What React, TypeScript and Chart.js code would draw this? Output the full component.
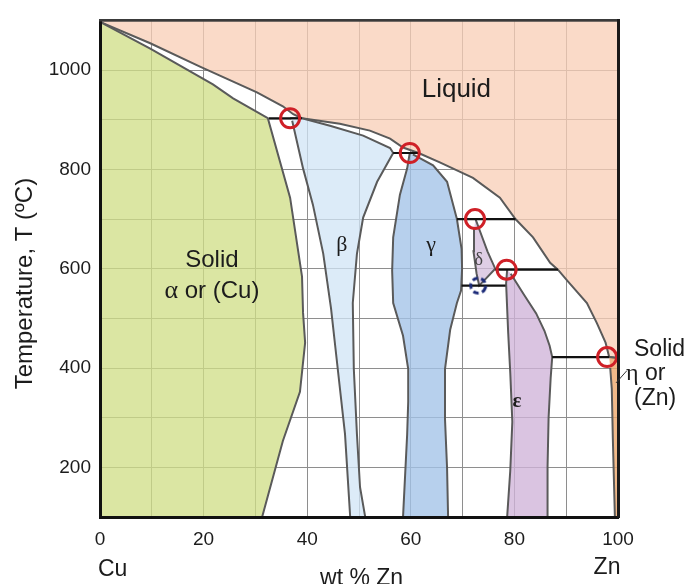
import React, { useEffect, useRef } from 'react';
import { Chart, registerables } from 'chart.js';

Chart.register(...registerables);

type Pt = [number, number];

// ---------- axis ranges / ticks ----------
const xRange: Pt = [0, 100];
const yRange: Pt = [100, 1100];
const xTickLabels = [0, 20, 40, 60, 80, 100];
const yTickLabels = [200, 400, 600, 800, 1000];

// ---------- phase boundaries (wt % Zn, °C) ----------
const liquidus: Pt[] = [
  [0, 1097], [9.7, 1054], [19.3, 1007], [30.3, 955], [35.3, 927], [37.3, 911], [39.0, 903],
  [46.3, 892], [52.1, 878], [56.0, 862], [58.5, 844], [61.5, 833], [65.6, 814], [72.0, 783],
  [77.2, 743], [80.2, 700], [83.6, 663], [86.9, 612], [88.4, 598], [90.2, 576], [94.0, 531],
  [95.9, 491], [97.6, 451], [98.3, 422], [100, 420],
];
const alphaSolidus: Pt[] = [[0, 1097], [9.7, 1043], [21.8, 971], [25.7, 943], [32.4, 903]];
const alphaSolvus: Pt[] = [
  [32.4, 903], [36.7, 743], [39.0, 584], [39.2, 511], [39.6, 451], [38.6, 352], [35.3, 253], [31.3, 100],
];
const betaField: Pt[] = [
  [36.7, 903], [39.0, 903], [44.4, 888], [50.8, 868], [56.0, 843], [56.6, 833], [53.5, 775],
  [50.8, 703], [49.6, 630], [48.8, 531], [49.0, 398], [49.6, 267], [50.2, 160], [51.2, 100],
  [48.3, 100], [47.3, 267], [45.9, 398], [44.6, 520], [43.1, 630], [41.1, 729], [39.2, 802], [37.1, 898],
];
const gammaField: Pt[] = [
  [59.8, 833], [59.3, 802], [57.9, 749], [56.6, 663], [56.4, 596], [56.6, 531], [58.5, 465],
  [59.5, 398], [59.5, 332], [59.3, 267], [58.5, 100], [67.2, 100], [67.0, 199], [66.6, 298],
  [66.6, 398], [67.6, 477], [68.9, 531], [69.7, 556], [69.9, 600], [69.8, 640], [68.9, 700],
  [67.0, 775], [64.3, 808], [60.4, 830],
];
const deltaField: Pt[] = [
  [72.5, 700], [73.2, 680], [74.8, 635], [76.3, 600], [74.5, 580], [73.2, 566], [72.7, 590],
  [72.1, 635], [72.2, 680],
];
const epsilonField: Pt[] = [
  [78.6, 598], [78.4, 570], [78.8, 471], [79.2, 391], [79.6, 292], [79.2, 193], [78.6, 100],
  [86.3, 100], [86.4, 200], [86.6, 300], [87.0, 380], [87.3, 422], [86.8, 445], [85.8, 475],
  [84.2, 510], [81.7, 550], [79.3, 590],
];
const etaField: Pt[] = [
  [98.3, 422], [100, 420], [100, 100], [99.4, 100], [99.0, 259], [98.8, 358], [98.5, 400],
];

// invariant (horizontal) lines: [x start, x end, temperature]
const invariantLines: [number, number, number][] = [
  [32.6, 39.0, 903], [56.6, 61.5, 833], [68.9, 80.2, 700], [76.3, 88.4, 598], [69.8, 78.3, 566], [87.3, 98.3, 422],
];
// peritectic / eutectic points (red circles) and eutectoid point (dashed)
const invariantPoints: Pt[] = [[36.7, 903], [59.8, 833], [72.4, 700], [78.5, 598], [97.9, 422]];
const eutectoidPoints: Pt[] = [[73.0, 566]];

// ---------- styles ----------
const SANS = "'Liberation Sans', Arial, Helvetica, sans-serif";
const SERIF = "'Liberation Serif', 'DejaVu Serif', 'Times New Roman', serif";
const fills = {
  liquid: 'rgba(248,206,182,0.75)',
  alpha: 'rgba(208,222,134,0.76)',
  beta: 'rgba(208,228,246,0.75)',
  gamma: 'rgba(163,195,232,0.78)',
  delta: 'rgba(212,190,220,0.75)',
  epsilon: 'rgba(208,179,216,0.78)',
  eta: 'rgba(238,168,108,0.8)',
};
const boundaryColor = '#5a5a5a';
const textColor = '#1c1c1c';

const xy = (pts: Pt[]) => pts.map(([x, y]) => ({ x, y }));

function polygon(pts: Pt[], color: string, order: number) {
  return {
    data: xy(pts),
    showLine: true,
    fill: 'shape',
    backgroundColor: color,
    borderColor: boundaryColor,
    borderWidth: 2,
    pointRadius: 0,
    tension: 0,
    order,
  };
}

type Run = [string, string];
const phaseLabels: { runs: Run[]; x: number; y: number; color?: string }[] = [
  { runs: [['Liquid', `26px ${SANS}`]], x: 68.8, y: 960 },
  { runs: [['Solid', `24px ${SANS}`]], x: 21.6, y: 616 },
  { runs: [['α', `26px ${SERIF}`], [' or (Cu)', `24px ${SANS}`]], x: 21.6, y: 555 },
  { runs: [['β', `22px ${SERIF}`]], x: 46.7, y: 648 },
  { runs: [['γ', `22px ${SERIF}`]], x: 63.9, y: 648 },
  { runs: [['δ', `18px ${SERIF}`]], x: 73.1, y: 616, color: '#444' },
  { runs: [['ε', `bold 21px ${SERIF}`]], x: 80.5, y: 332 },
];

function drawRuns(ctx: CanvasRenderingContext2D, runs: Run[], cx: number, cy: number, align: 'center' | 'left') {
  let total = 0;
  const widths = runs.map(([t, f]) => {
    ctx.font = f;
    const w = ctx.measureText(t).width;
    total += w;
    return w;
  });
  let x = align === 'center' ? cx - total / 2 : cx;
  ctx.textAlign = 'left';
  runs.forEach(([t, f], i) => {
    ctx.font = f;
    ctx.fillText(t, x, cy);
    x += widths[i];
  });
}

const annotatePlugin = {
  id: 'annotate',
  afterDraw(chart: any) {
    const { ctx, scales, chartArea } = chart;
    const xs = scales.x;
    const ys = scales.y;
    ctx.save();
    ctx.textBaseline = 'middle';
    for (const l of phaseLabels) {
      ctx.fillStyle = l.color || textColor;
      drawRuns(ctx, l.runs, xs.getPixelForValue(l.x), ys.getPixelForValue(l.y), 'center');
    }
    ctx.fillStyle = textColor;
    const xr = xs.getPixelForValue(100);
    // right-hand label for the Zn solid solution
    drawRuns(ctx, [['Solid', `23px ${SANS}`]], xr + 16, ys.getPixelForValue(437), 'left');
    drawRuns(ctx, [['η', `24px ${SERIF}`], [' or', `23px ${SANS}`]], xr + 8, ys.getPixelForValue(389), 'left');
    drawRuns(ctx, [['(Zn)', `23px ${SANS}`]], xr + 16, ys.getPixelForValue(338), 'left');
    ctx.strokeStyle = '#333';
    ctx.lineWidth = 1;
    ctx.beginPath();
    ctx.moveTo(xr + 9, ys.getPixelForValue(395));
    ctx.lineTo(xr - 2, ys.getPixelForValue(370));
    ctx.stroke();
    // composition axis texts
    const b = chartArea.bottom;
    drawRuns(ctx, [['Cu', `23px ${SANS}`]], xs.getPixelForValue(0) - 2, b + 53, 'left');
    drawRuns(ctx, [['Zn', `23px ${SANS}`]], xr - 11, b + 51, 'center');
    drawRuns(ctx, [['wt % Zn', `23px ${SANS}`]], xs.getPixelForValue(50.5), b + 62, 'center');
    // temperature axis title
    ctx.translate(25, ys.getPixelForValue(570));
    ctx.rotate(-Math.PI / 2);
    drawRuns(ctx, [['Temperature, T (ºC)', `24px ${SANS}`]], 0, 0, 'center');
    ctx.restore();
  },
};

export default function App() {
  const ref = useRef<HTMLCanvasElement>(null);

  useEffect(() => {
    const canvas = ref.current;
    if (!canvas) return;

    const dashed = document.createElement('canvas');
    dashed.width = 22;
    dashed.height = 22;
    const dc = dashed.getContext('2d')!;
    dc.strokeStyle = '#1b2a78';
    dc.lineWidth = 3;
    dc.setLineDash([5.5, 3.5]);
    dc.beginPath();
    dc.arc(11, 11, 7.5, 0.3, Math.PI * 2 + 0.3);
    dc.stroke();

    const datasets: any[] = [
      {
        data: xy(invariantPoints),
        showLine: false,
        pointStyle: 'circle',
        pointRadius: 9.5,
        pointBorderWidth: 3,
        pointBorderColor: '#cf2027',
        pointBackgroundColor: 'rgba(0,0,0,0)',
        order: 0,
      },
      {
        data: xy(eutectoidPoints),
        showLine: false,
        pointStyle: dashed,
        pointRadius: 8,
        order: 1,
      },
      ...invariantLines.map(([a, b, t]) => ({
        data: xy([[a, t], [b, t]]),
        showLine: true,
        borderColor: '#111',
        borderWidth: 2.2,
        pointRadius: 0,
        fill: false,
        order: 2,
      })),
      polygon(etaField, fills.eta, 3),
      polygon(epsilonField, fills.epsilon, 4),
      polygon(deltaField, fills.delta, 5),
      polygon(gammaField, fills.gamma, 6),
      polygon(betaField, fills.beta, 7),
      polygon([...alphaSolidus, ...alphaSolvus.slice(1), [0, 100]], fills.alpha, 8),
      polygon([[0, 1100], [100, 1100], ...liquidus.slice().reverse()], fills.liquid, 9),
    ];

    const gridColor = '#8e8e8e';
    const chart = new Chart(canvas, {
      type: 'scatter',
      data: { datasets },
      plugins: [annotatePlugin],
      options: {
        responsive: false,
        devicePixelRatio: 1,
        animation: false,
        events: [],
        layout: { padding: { left: 0, right: 74, top: 13, bottom: 0 } },
        plugins: { legend: { display: false }, tooltip: { enabled: false } },
        scales: {
          x: {
            type: 'linear',
            min: xRange[0],
            max: xRange[1],
            ticks: {
              stepSize: 10,
              autoSkip: false,
              maxRotation: 0,
              padding: 11,
              color: textColor,
              font: { family: SANS, size: 19 },
              callback: (v: any) => (xTickLabels.includes(Number(v)) ? String(v) : ''),
            },
            grid: { color: gridColor, lineWidth: 1, drawTicks: false },
            border: { display: true, color: '#111', width: 3, z: 1 },
            afterFit: (s: any) => { s.height = 67; },
          },
          y: {
            type: 'linear',
            min: yRange[0],
            max: yRange[1],
            ticks: {
              stepSize: 100,
              autoSkip: false,
              padding: 9,
              color: textColor,
              font: { family: SANS, size: 19 },
              callback: (v: any) => (yTickLabels.includes(Number(v)) ? String(v) : ''),
            },
            grid: { color: gridColor, lineWidth: 1, drawTicks: false },
            border: { display: true, color: '#111', width: 3, z: 1 },
            afterFit: (s: any) => { s.width = 100; },
          },
          x2: {
            type: 'linear',
            position: 'top',
            display: true,
            min: xRange[0],
            max: xRange[1],
            ticks: { display: false },
            grid: { display: false, drawTicks: false },
            border: { display: true, color: '#3a3a3a', width: 2.5, z: 1 },
            afterFit: (s: any) => { s.height = 0; },
          },
          y2: {
            type: 'linear',
            position: 'right',
            display: true,
            min: yRange[0],
            max: yRange[1],
            ticks: { display: false },
            grid: { display: false, drawTicks: false },
            border: { display: true, color: '#1a1a1a', width: 3, z: 1 },
            afterFit: (s: any) => { s.width = 0; },
          },
        },
      } as any,
    });

    return () => chart.destroy();
  }, []);

  return (
    <div style={{ position: 'absolute', left: 0, top: 0, width: 692, height: 584, background: '#fff' }}>
      <canvas ref={ref} width={692} height={584} style={{ display: 'block' }} />
    </div>
  );
}
